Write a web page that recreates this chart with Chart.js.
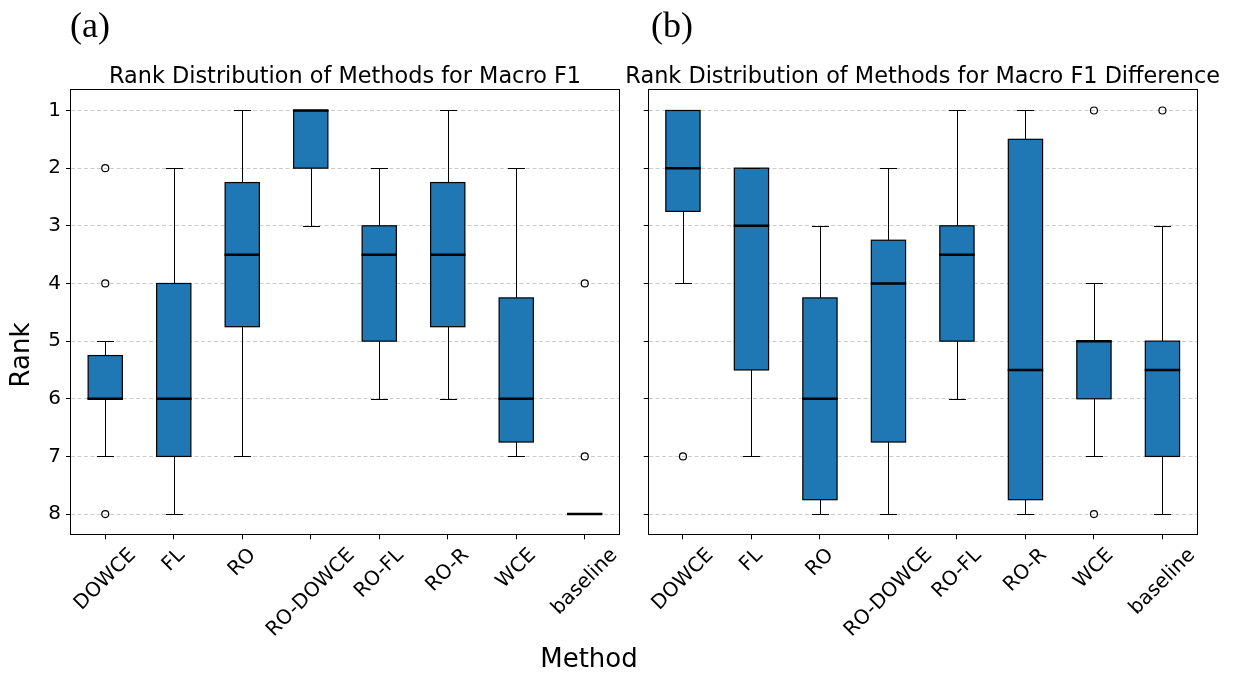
<!DOCTYPE html>
<html>
<head>
<meta charset="utf-8">
<script src="https://cdn.jsdelivr.net/npm/chart.js@4.4.1/dist/chart.umd.min.js"></script>
<style>
    html, body { margin: 0; padding: 0; background: #fff; }
    #wrap { position: relative; width: 1239px; height: 674px; }
    canvas { position: absolute; left: 0; top: 0; }
</style>
</head>
<body>
<div id="wrap">
    <canvas id="f1Chart" width="1239" height="674"></canvas>
    <canvas id="diffChart" width="1239" height="674"></canvas>
</div>
<script>
'use strict';

const methods = ['DOWCE', 'FL', 'RO', 'RO-DOWCE', 'RO-FL', 'RO-R', 'WCE', 'baseline'];
const rankTicks = [1, 2, 3, 4, 5, 6, 7, 8];

// (a) rank distribution for Macro F1
const f1Q1 = [5.25, 4, 2.25, 1, 3, 2.25, 4.25, 8];
const f1Q3 = [6, 7, 4.75, 2, 5, 4.75, 6.75, 8];
const f1Median = [6, 6, 3.5, 1, 3.5, 3.5, 6, 8];
const f1WhiskerTop = [5, 2, 1, 1, 2, 1, 2, 8];
const f1WhiskerBottom = [7, 8, 7, 3, 6, 6, 7, 8];
const f1Outliers = [[2, 4, 8], [], [], [], [], [], [], [4, 7]];

// (b) rank distribution for Macro F1 difference
const diffQ1 = [1, 2, 4.25, 3.25, 3, 1.5, 5, 5];
const diffQ3 = [2.75, 5.5, 7.75, 6.75, 5, 7.75, 6, 7];
const diffMedian = [2, 3, 6, 4, 3.5, 5.5, 5, 5.5];
const diffWhiskerTop = [1, 2, 3, 2, 1, 1, 4, 3];
const diffWhiskerBottom = [4, 7, 8, 8, 6, 8, 7, 8];
const diffOutliers = [[7], [], [], [], [], [], [1, 8], [1]];

const FONT = "'DejaVu Sans', sans-serif";
const BOX_BLUE = '#1f77b4';

function _boxPartsPlugin(stats) {
    return {
        id: 'boxParts',
        afterDatasetsDraw(chart) {
            const {ctx, chartArea} = chart;
            const y = chart.scales.y;
            const meta = chart.getDatasetMeta(0);
            ctx.save();
            ctx.strokeStyle = '#000';
            meta.data.forEach(function (bar, i) {
                const x = Math.round(bar.x) + 0.5;
                const half = bar.width / 2;
                const cap = bar.width / 4;
                const yTop = Math.round(y.getPixelForValue(stats.whiskerTop[i])) + 0.5;
                const yBottom = Math.round(y.getPixelForValue(stats.whiskerBottom[i])) + 0.5;
                const yQ1 = y.getPixelForValue(stats.q1[i]);
                const yQ3 = y.getPixelForValue(stats.q3[i]);

                // box outline on the edges of the bar itself
                ctx.lineWidth = 1.2;
                ctx.strokeRect(bar.x - half, yQ1, bar.width, yQ3 - yQ1);

                // whiskers and caps
                ctx.lineWidth = 1;
                ctx.beginPath();
                ctx.moveTo(x, yQ1);
                ctx.lineTo(x, yTop);
                ctx.moveTo(x, yQ3);
                ctx.lineTo(x, yBottom);
                ctx.moveTo(x - cap, yTop);
                ctx.lineTo(x + cap, yTop);
                ctx.moveTo(x - cap, yBottom);
                ctx.lineTo(x + cap, yBottom);
                ctx.stroke();

                // median
                const yMed = y.getPixelForValue(stats.median[i]);
                ctx.lineWidth = 2.5;
                ctx.beginPath();
                ctx.moveTo(bar.x - half - 0.6, yMed);
                ctx.lineTo(bar.x + half + 0.6, yMed);
                ctx.stroke();
            });
            // frame on all four sides
            ctx.lineWidth = 1;
            ctx.strokeRect(Math.round(chartArea.left) - 0.5, Math.round(chartArea.top) - 0.5,
                Math.round(chartArea.right - chartArea.left) + 1, Math.round(chartArea.bottom - chartArea.top) + 1);
            ctx.restore();
        },
        afterDraw(chart) {
            const {ctx, chartArea} = chart;
            const xScale = chart.scales.x;
            ctx.save();
            ctx.fillStyle = '#000';

            // title
            ctx.font = '22.4px ' + FONT;
            ctx.textAlign = 'center';
            ctx.textBaseline = 'alphabetic';
            ctx.fillText(stats.title, (chartArea.left + chartArea.right) / 2, 82.7);

            // panel letter
            ctx.font = "36px 'Liberation Serif', serif";
            ctx.textAlign = 'left';
            ctx.fillText(stats.panel, stats.panelX, 37);

            // rotated category labels, centred under their tick like matplotlib
            ctx.font = '20px ' + FONT;
            ctx.textAlign = 'center';
            ctx.textBaseline = 'middle';
            const top = chartArea.bottom + 9.7;
            const h = 20 * 1.164;
            methods.forEach(function (label, i) {
                const w = ctx.measureText(label).width;
                const d = (w + h) / (2 * Math.SQRT2);
                ctx.save();
                ctx.translate(xScale.getPixelForTick(i), top + d);
                ctx.rotate(-Math.PI / 4);
                ctx.fillText(label, 0, 0);
                ctx.restore();
            });

            if (stats.figureLabels) {
                ctx.font = '26px ' + FONT;
                ctx.textAlign = 'center';
                ctx.textBaseline = 'alphabetic';
                ctx.fillText('Method', 589, 667);
                ctx.save();
                ctx.translate(22, 355);
                ctx.rotate(-Math.PI / 2);
                ctx.textBaseline = 'middle';
                ctx.fillText('Rank', 0, 0);
                ctx.restore();
            }
            ctx.restore();
        }
    };
}

function _createBoxChart(canvas, stats) {
    const outlierPoints = [];
    stats.outliers.forEach(function (list, i) {
        list.forEach(function (v) {
            outlierPoints.push({x: methods[i], y: v});
        });
    });

    return new Chart(canvas.getContext('2d'), {
        type: 'bar',
        data: {
            labels: methods,
            datasets: [
                {
                    type: 'bar',
                    data: stats.q1.map((v, i) => [v, stats.q3[i]]),
                    backgroundColor: BOX_BLUE,
                    borderWidth: 0,
                    barPercentage: 0.5,
                    categoryPercentage: 1
                },
                {
                    type: 'scatter',
                    data: outlierPoints,
                    showLine: false,
                    pointRadius: 3.5,
                    pointBorderWidth: 1.2,
                    pointBorderColor: '#000',
                    pointBackgroundColor: 'rgba(0,0,0,0)'
                }
            ]
        },
        options: {
            responsive: false,
            animation: false,
            devicePixelRatio: 1,
            layout: {padding: {left: stats.padLeft, right: stats.padRight, top: 90.3, bottom: 0}},
            plugins: {legend: {display: false}, tooltip: {enabled: false}, title: {display: false}},
            scales: {
                x: {
                    type: 'category',
                    offset: true,
                    grid: {display: true, offset: false, drawOnChartArea: false, drawTicks: true,
                        tickLength: 5, tickColor: '#000', tickWidth: 1},
                    border: {display: false},
                    ticks: {display: false},
                    afterFit: function (scale) { scale.height = 674 - 534.3; }
                },
                y: {
                    type: 'linear',
                    reverse: true,
                    min: 0.65,
                    max: 8.35,
                    afterBuildTicks: function (scale) {
                        scale.ticks = rankTicks.map(v => ({value: v}));
                    },
                    grid: {color: '#cccccc', lineWidth: 1, drawTicks: true, tickLength: 5,
                        tickColor: '#000', tickWidth: 1},
                    border: {display: false, dash: [4, 2.5]},
                    ticks: {display: stats.showTicks, color: '#000', padding: 5, font: {family: FONT, size: 20}},
                    afterFit: function (scale) { scale.width = stats.axisWidth; }
                }
            }
        },
        plugins: [_boxPartsPlugin(stats)]
    });
}

_createBoxChart(document.getElementById('f1Chart'), {
    q1: f1Q1, q3: f1Q3, median: f1Median,
    whiskerTop: f1WhiskerTop, whiskerBottom: f1WhiskerBottom, outliers: f1Outliers,
    title: 'Rank Distribution of Methods for Macro F1',
    panel: '(a)', panelX: 70, figureLabels: true,
    padLeft: 0, padRight: 1239 - 619, axisWidth: 71, showTicks: true
});

_createBoxChart(document.getElementById('diffChart'), {
    q1: diffQ1, q3: diffQ3, median: diffMedian,
    whiskerTop: diffWhiskerTop, whiskerBottom: diffWhiskerBottom, outliers: diffOutliers,
    title: 'Rank Distribution of Methods for Macro F1 Difference',
    panel: '(b)', panelX: 651, figureLabels: false,
    padLeft: 648.7 - 20, padRight: 1239 - 1196.7, axisWidth: 20, showTicks: false
});
</script>
</body>
</html>
